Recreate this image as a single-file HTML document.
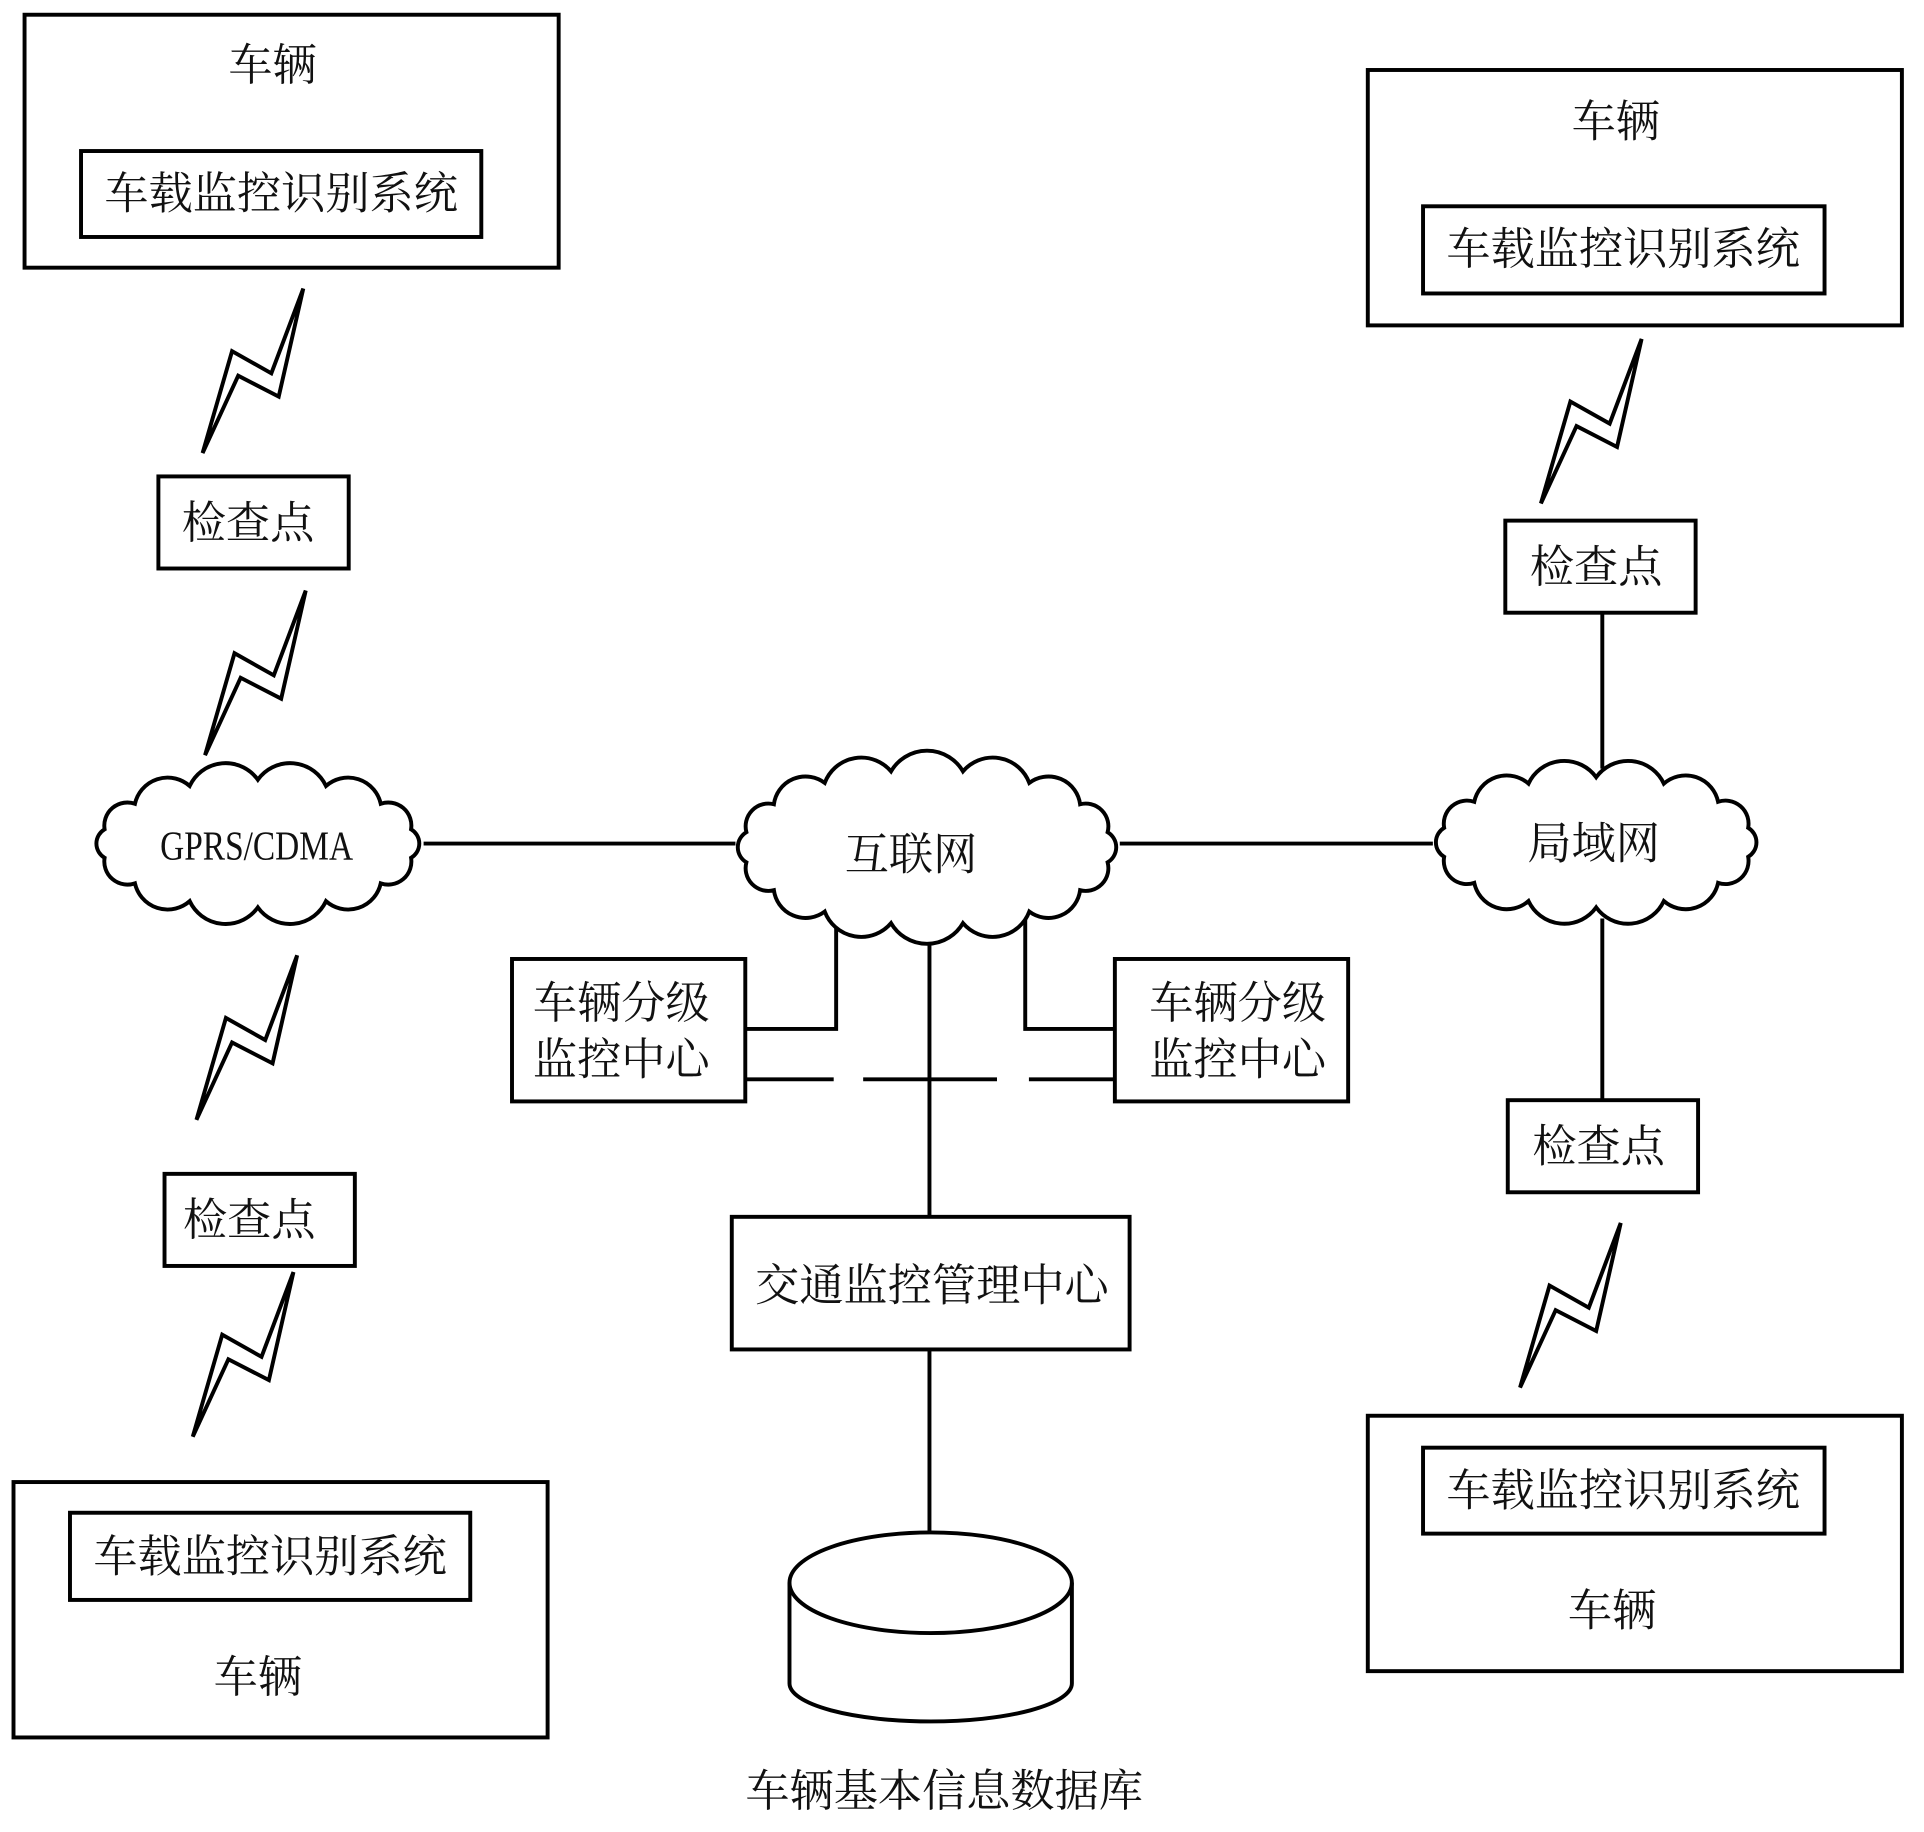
<!DOCTYPE html>
<html><head><meta charset="utf-8">
<style>
html,body{margin:0;padding:0;background:#fff;}
svg{display:block;}
text{font-family:"Liberation Serif","Noto Serif CJK SC",serif;fill:#111;}
</style></head>
<body>
<svg id="s" width="1924" height="1832" viewBox="0 0 1567 1492" preserveAspectRatio="none" xmlns="http://www.w3.org/2000/svg">
<g fill="none" stroke="#000" stroke-width="3.2">
<rect x="20" y="12" width="435" height="206"/>
<rect x="66" y="123" width="326" height="70"/>
<rect x="1114" y="57" width="435" height="208"/>
<rect x="1159" y="168" width="327" height="71"/>
<rect x="11" y="1207" width="435" height="208"/>
<rect x="57" y="1232" width="326" height="71"/>
<rect x="1114" y="1153" width="435" height="208"/>
<rect x="1159" y="1179" width="327" height="70"/>
<rect x="129" y="388" width="155" height="75"/>
<rect x="134" y="956" width="155" height="75"/>
<rect x="1226" y="424" width="155" height="75"/>
<rect x="1228" y="896" width="155" height="75"/>
<rect x="417" y="781" width="190" height="116"/>
<rect x="908" y="781" width="190" height="116"/>
<rect x="596" y="991" width="324" height="108"/>
<line x1="345" y1="687" x2="599" y2="687"/>
<line x1="912" y1="687" x2="1167" y2="687"/>
<line x1="1305" y1="499" x2="1305" y2="626"/>
<line x1="1305" y1="748" x2="1305" y2="896"/>
<polyline points="681,744 681,838 607,838"/>
<polyline points="835,744 835,838 908,838"/>
<line x1="607" y1="879" x2="679" y2="879"/>
<line x1="703" y1="879" x2="812" y2="879"/>
<line x1="838" y1="879" x2="908" y2="879"/>
<line x1="757" y1="764" x2="757" y2="991"/>
<line x1="757" y1="1099" x2="757" y2="1248"/>
<path d="M643,1289 A115,41 0 0 1 873,1289 L873,1371 A115,31 0 0 1 643,1371 Z" fill="#fff"/>
<path d="M643,1289 A115,41 0 0 0 873,1289"/>
<g id="bolts"></g>
<g id="clouds"></g>
</g>
<g font-size="36" text-anchor="middle">
<text x="222" y="65">车辆</text>
<text x="229" y="170">车载监控识别系统</text>
<text x="1316" y="111">车辆</text>
<text x="1322" y="215">车载监控识别系统</text>
<text x="220" y="1280">车载监控识别系统</text>
<text x="210" y="1378">车辆</text>
<text x="1322" y="1226">车载监控识别系统</text>
<text x="1313" y="1324">车辆</text>
<text x="202" y="438">检查点</text>
<text x="203" y="1006">检查点</text>
<text x="1300" y="474">检查点</text>
<text x="1302" y="946">检查点</text>
<text x="506" y="829">车辆分级</text>
<text x="506" y="875">监控中心</text>
<text x="1008" y="829">车辆分级</text>
<text x="1008" y="875">监控中心</text>
<text x="759" y="1059">交通监控管理中心</text>
<text x="742" y="708">互联网</text>
<text x="1298" y="699">局域网</text>
<text x="769" y="1471">车辆基本信息数据库</text>
<text x="209" y="700" font-size="34" transform="translate(209 0) scale(0.8 1) translate(-209 0)">GPRS/CDMA</text>
</g>
</svg>
<script>
(function(){
var NS="http://www.w3.org/2000/svg";
var bolts=[[247,235],[249,481],[242,778],[239,1036],[1337,276],[1320,996]];
var rel=[[0,0],[-26,69],[-58,51],[-82,134],[-53,71],[-20,88]];
var bg=document.getElementById('bolts');
bolts.forEach(function(b){
  var p=document.createElementNS(NS,'polygon');
  p.setAttribute('points',rel.map(function(r){return (b[0]+r[0])+','+(b[1]+r[1]);}).join(' '));
  bg.appendChild(p);
});
var clouds=[[210,687,128,52,14],[755,690,150,63,16],[1300,686,127,53,14]];
var cg=document.getElementById('clouds');
clouds.forEach(function(c){
  var cx=c[0],cy=c[1],rx=c[2],ry=c[3],n=c[4],pts=[];
  for(var i=0;i<n;i++){var a=(i+0.5)*2*Math.PI/n;pts.push([cx+rx*Math.cos(a),cy+ry*Math.sin(a)]);}
  var d='M'+pts[0][0].toFixed(1)+','+pts[0][1].toFixed(1);
  for(var i=0;i<n;i++){var p=pts[i],q=pts[(i+1)%n];var ch=Math.hypot(q[0]-p[0],q[1]-p[1]);var r=ch*0.58;
    d+=' A'+r.toFixed(1)+','+r.toFixed(1)+' 0 0 1 '+q[0].toFixed(1)+','+q[1].toFixed(1);}
  d+='Z';
  var e=document.createElementNS(NS,'path');e.setAttribute('d',d);e.setAttribute('fill','#fff');
  cg.appendChild(e);
});
})();
</script>
</body></html>
